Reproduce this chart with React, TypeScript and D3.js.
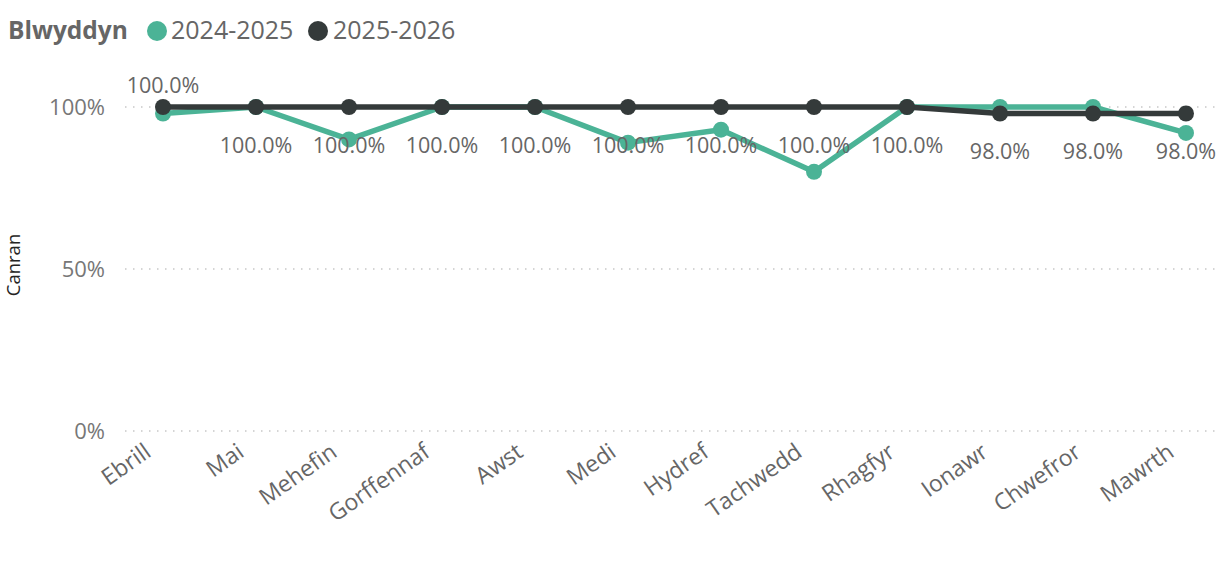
import React from "react";
import * as d3 from "d3";

const months = ["Ebrill","Mai","Mehefin","Gorffennaf","Awst","Medi","Hydref","Tachwedd","Rhagfyr","Ionawr","Chwefror","Mawrth"];
const series2425 = [0.98,1.0,0.90,1.0,1.0,0.89,0.93,0.80,1.0,1.0,1.0,0.92];
const series2526 = [1.0,1.0,1.0,1.0,1.0,1.0,1.0,1.0,1.0,0.98,0.98,0.98];
const yTicks = [0, 0.5, 1];
const legendTitle = "Blwyddyn";
const seriesNames = ["2024-2025","2025-2026"];
const yAxisTitle = "Canran";

const W = 1226, H = 563;
const GREEN = "#4BB396";
const DARK = "#343A3A";
const TEXT = "#666666";
const FONT = "'Open Sans', 'Segoe UI', sans-serif";

export default function App() {
  const x = d3.scalePoint<string>().domain(months).range([163, 1186]);
  const y = d3.scaleLinear().domain([0, 1]).range([431, 107]);
  const line = d3.line<number>().x((_, i) => x(months[i])!).y(d => y(d));
  const pct0 = d3.format(".0%");
  const pct1 = d3.format(".1%");

  return (
    <svg width={W} height={H} style={{ position: "absolute", left: 0, top: 0, background: "#fff" }} fontFamily={FONT}>
      {/* legend */}
      <text x={8} y={39} fontSize={24.5} fontWeight="bold" fill={TEXT}>{legendTitle}</text>
      <circle cx={157} cy={31} r={10} fill={GREEN} />
      <text x={171} y={39} fontSize={25} fill={TEXT}>{seriesNames[0]}</text>
      <circle cx={318} cy={31} r={10} fill={DARK} />
      <text x={333} y={39} fontSize={25} fill={TEXT}>{seriesNames[1]}</text>

      {/* y axis title */}
      <text transform={`translate(20,265) rotate(-90)`} textAnchor="middle" fontSize={18.5} fill="#252423">{yAxisTitle}</text>

      {/* gridlines + ticks */}
      {yTicks.map(t => (
        <g key={t}>
          <line x1={125} x2={1215} y1={y(t)} y2={y(t)} stroke="#C8C8C8" strokeWidth={1.5} strokeDasharray="1.5 6.5" />
          <text x={105} y={y(t) + 8} textAnchor="end" fontSize={22} fill="#777">{pct0(t)}</text>
        </g>
      ))}

      {/* x labels */}
      {months.map(m => (
        <text key={m} transform={`translate(${x(m)! - 22},${439}) rotate(-35)`} textAnchor="end" dominantBaseline="hanging" fontSize={23} fill={TEXT}>{m}</text>
      ))}

      {/* series 2024-2025 */}
      <path d={line(series2425)!} fill="none" stroke={GREEN} strokeWidth={5.5} strokeLinejoin="round" />
      {series2425.map((v, i) => (
        <circle key={"g" + i} cx={x(months[i])!} cy={y(v)} r={8} fill={GREEN} />
      ))}

      {/* series 2025-2026 */}
      <path d={line(series2526)!} fill="none" stroke={DARK} strokeWidth={5.5} strokeLinejoin="round" />
      {series2526.map((v, i) => (
        <circle key={"d" + i} cx={x(months[i])!} cy={y(v)} r={8} fill={DARK} />
      ))}

      {/* data labels */}
      {series2526.map((v, i) => (
        <text key={"l" + i} x={x(months[i])!} y={i === 0 ? y(v) - 14 : y(v) + 46} textAnchor="middle" fontSize={21.5} fill={TEXT}>{pct1(v)}</text>
      ))}
    </svg>
  );
}
